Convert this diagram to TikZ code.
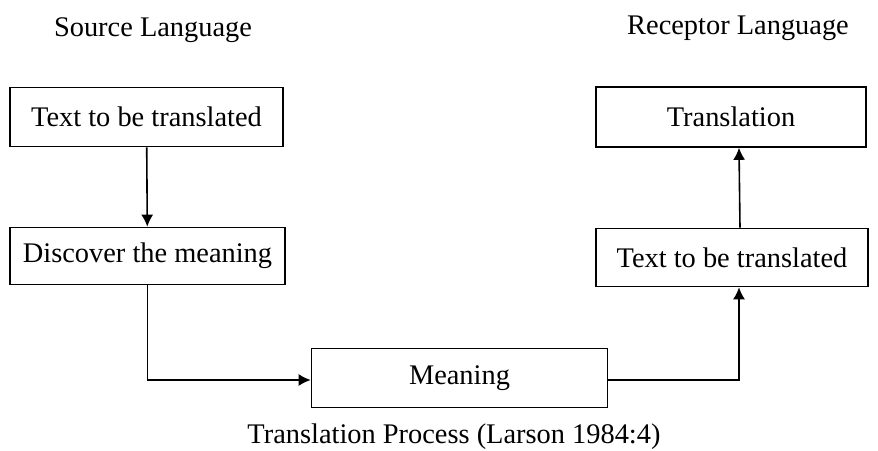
\documentclass[tikz,border=0pt]{standalone}
\usepackage{fontspec}
\setmainfont{Liberation Serif}
\usetikzlibrary{arrows.meta, positioning}
\tikzset{stagebox/.style={draw, line width=0.8pt, inner sep=0pt, align=center}}

\begin{document}
\begin{tikzpicture}[x=0.5pt, y=-0.5pt, >={Latex[length=6pt,width=6pt]}, line width=0.8pt, font=\fontsize{14.2}{17}\selectfont]
\useasboundingbox (0,0) rectangle (878,450);
\node (src) at (153,30) {Source Language};
\node (rcp) at (738,28) {Receptor Language};
\node[stagebox, minimum width=136.5pt, minimum height=29.5pt] (text1) at (146.5,117) {Text to be translated};
\node[stagebox, minimum width=137.5pt, minimum height=28.5pt] (disc) at (147.5,256) {Discover the meaning};
\node[stagebox, minimum width=148pt, minimum height=29.5pt] (mean) at (459.5,378) {Meaning};
\node[stagebox, minimum width=135pt, minimum height=30pt] (trans) at (731,117) {Translation};
\node[stagebox, minimum width=136pt, minimum height=29pt] (text2) at (732,257.5) {Text to be translated};
\node (cap) at (454,437) {Translation Process (Larson 1984:4)};
\draw[->] (text1) -- (disc);
\draw[->] (disc.south) |- ([yshift=-1pt]mean.west);
\draw[->] ([yshift=-1pt]mean.east) -| ([xshift=3.5pt]text2.south);
\draw[->] ([xshift=4pt]text2.north) -- ([xshift=4pt]trans.south);
\end{tikzpicture}
\end{document}
